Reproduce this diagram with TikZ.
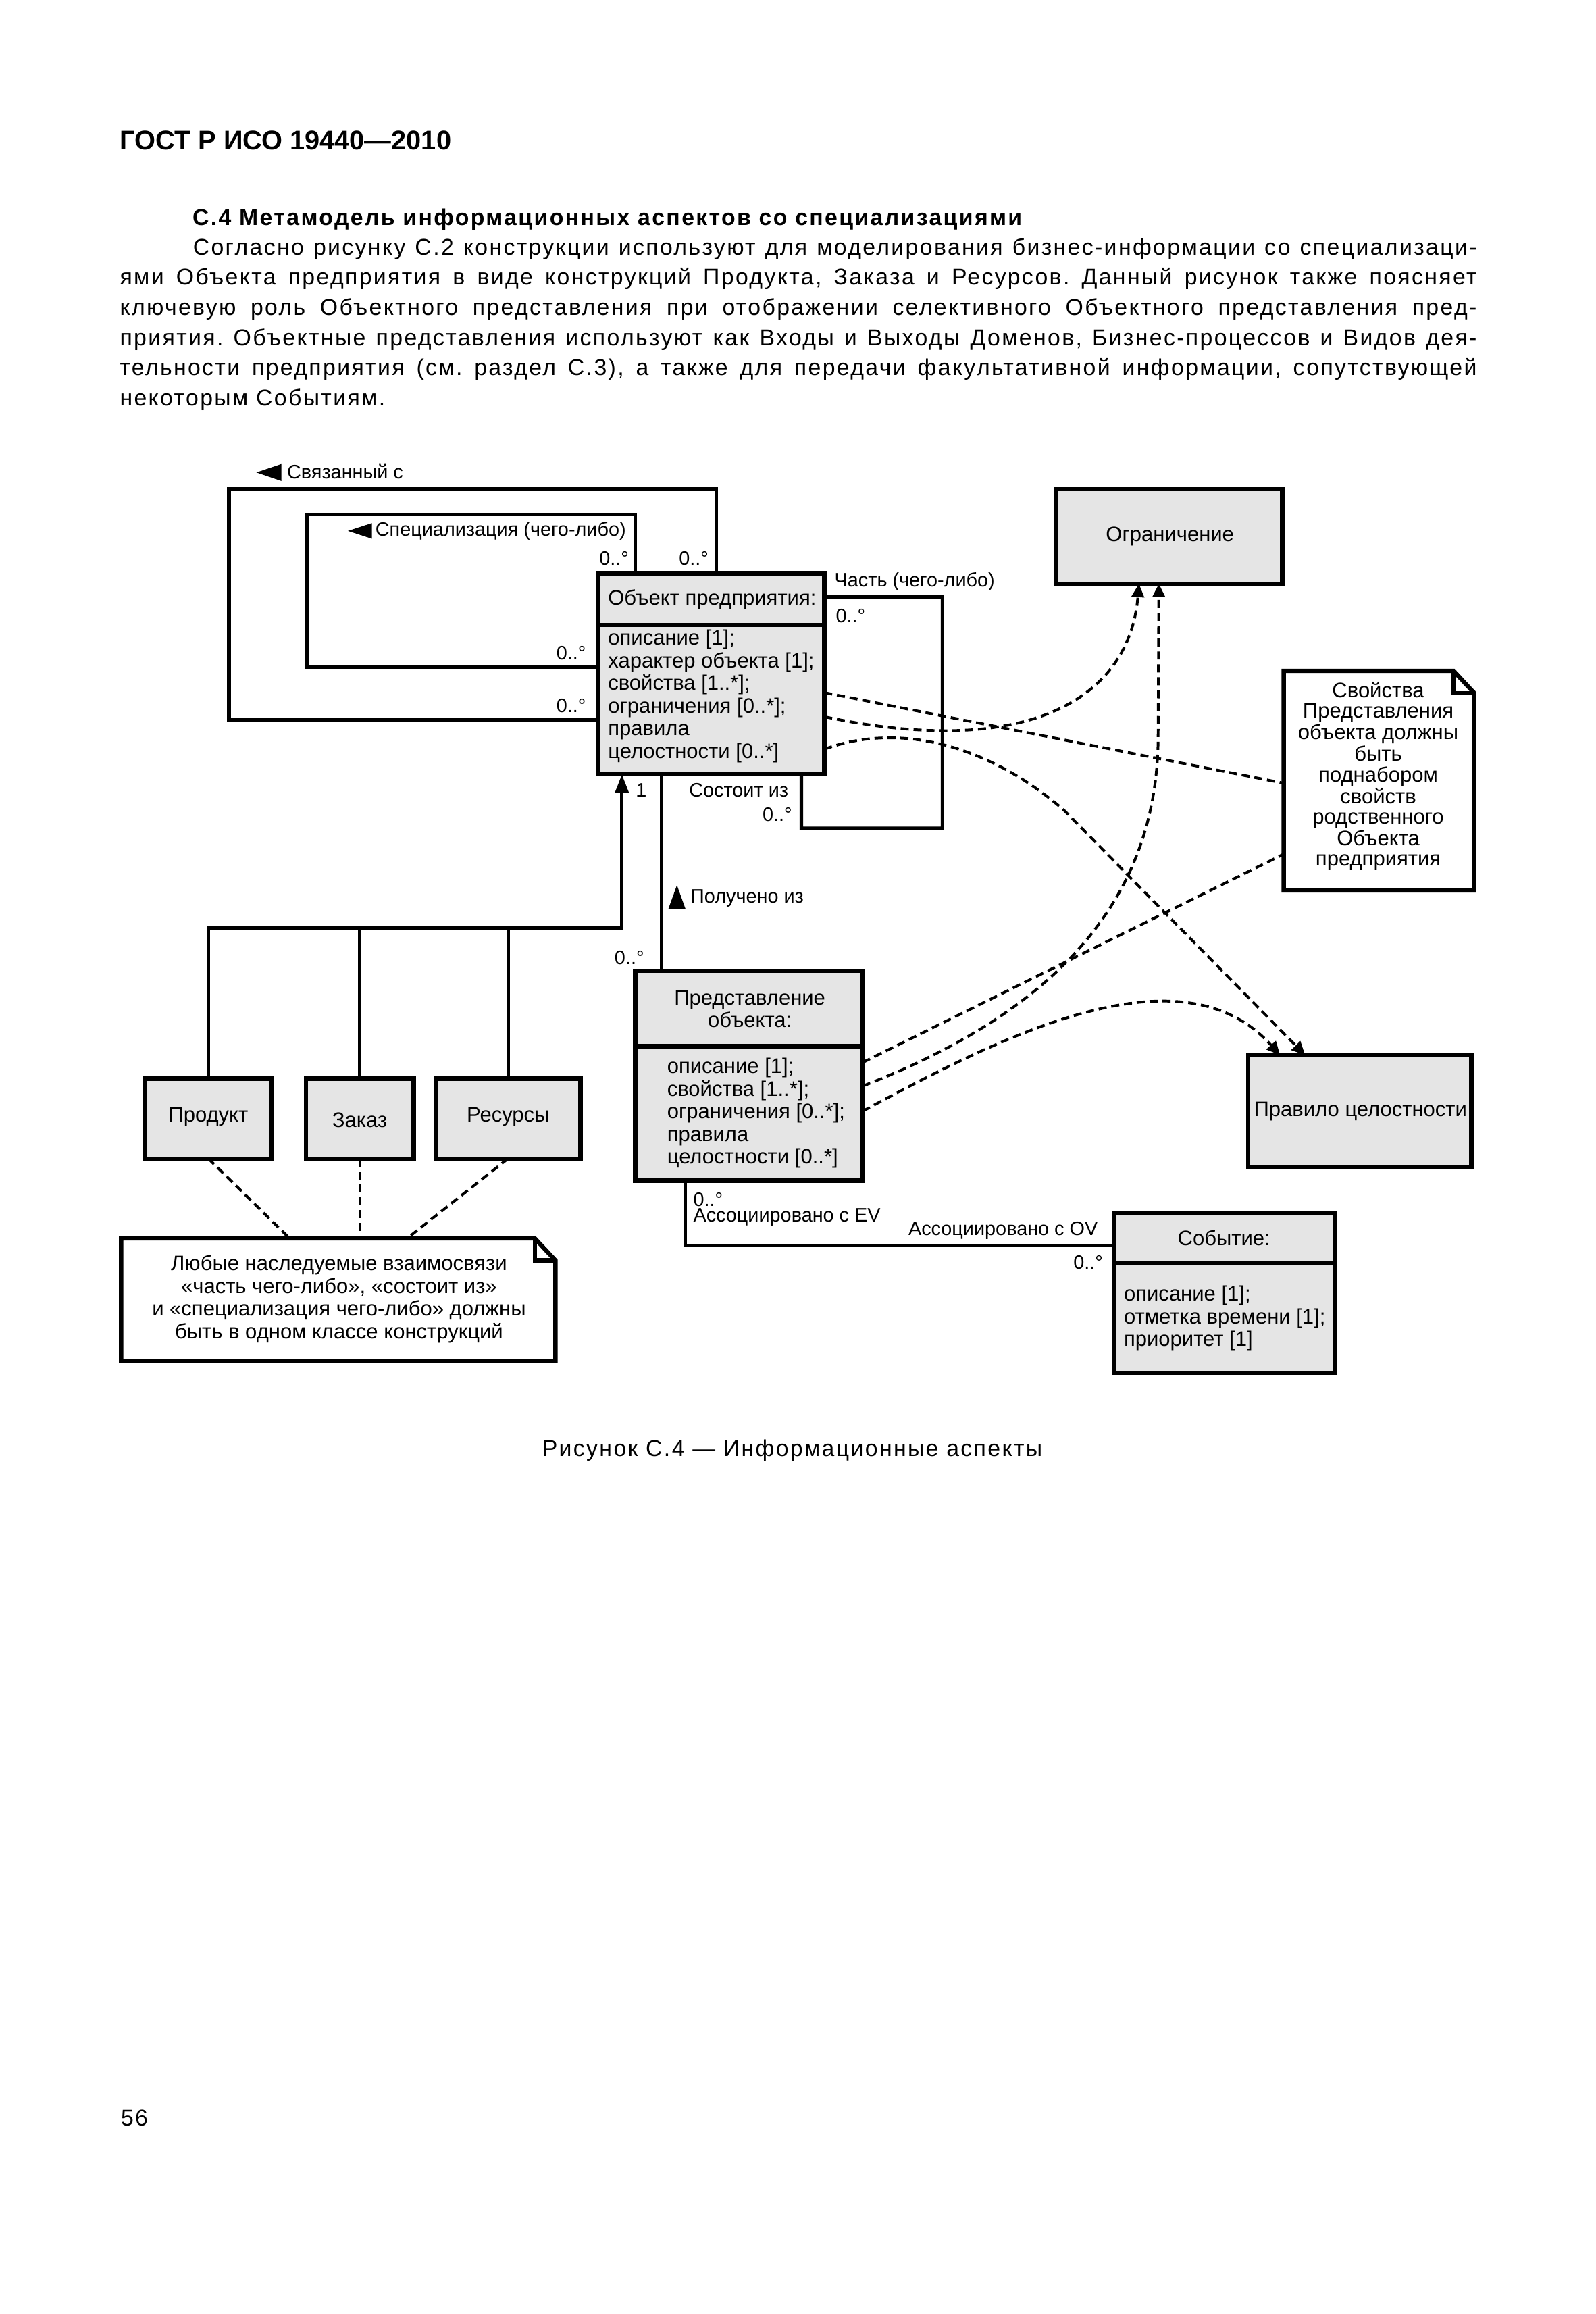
\documentclass[tikz,border=0pt]{standalone}
\usepackage{fontspec}
\setmainfont{Liberation Sans}
\newfontfamily\bodyfont[LetterSpace=7]{Liberation Sans}
\usetikzlibrary{arrows.meta,calc}
\newcommand\dfont{\fontsize{7.8}{8.42}\selectfont}
\newcommand\lfont{\fontsize{7.25}{8.42}\selectfont}
\newcommand\bfont{\bodyfont\fontsize{8.5}{11.2}\selectfont\frenchspacing}
\newcommand\tabl[1]{\begin{tabular}[t]{@{}l@{}}#1\end{tabular}}
\newcommand\tabc[1]{\begin{tabular}[t]{@{}c@{}}#1\end{tabular}}
\newcommand\jline[2]{\makebox[#1][s]{#2}}
\begin{document}
\frenchspacing
\begin{tikzpicture}[x=0.55pt,y=-0.55pt,
  box/.style={draw, line width=1.6pt, fill=black!10, inner sep=0pt, outer sep=0pt, anchor=north west},
  notebox/.style={inner sep=0pt, outer sep=0pt, anchor=north west},
  noteline/.style={line width=1.6pt, line join=miter},
  conn/.style={line width=1.3pt},
  dep/.style={line width=1pt, dash pattern=on 3pt off 1.8pt},
  dtip/.style={-{Triangle[length=5pt,width=4.6pt]}},
  lbl/.style={inner sep=0pt, font=\dfont},
  sml/.style={inner sep=0pt, font=\lfont},
  txt/.style={inner sep=0pt, font=\bfont, anchor=west}]
\fill[white] (0,0) rectangle (1080,1566);
\useasboundingbox (0,0) rectangle (1080,1566);

% ---------- page text ----------
\node[inner sep=0pt, anchor=west, font=\fontsize{10}{12}\selectfont\bfseries] (hdr) at (80.8,95.2) {ГОСТ Р ИСО 19440—2010};
\node[txt, font=\bfont\bfseries] (sec) at (130,148.6) {С.4 Метамодель информационных аспектов со специализациями};
\node[txt] (p1) at (130.3,168.4) {\jline{478pt}{Согласно рисунку С.2 конструкции используют для моделирования бизнес-информации со специализаци-}};
\node[txt] (p2) at (80.8,188.8) {\jline{505.2pt}{ями Объекта предприятия в виде конструкций Продукта, Заказа и Ресурсов. Данный рисунок также поясняет}};
\node[txt] (p3) at (80.8,209.2) {\jline{505.2pt}{ключевую роль Объектного представления при отображении селективного Объектного представления пред-}};
\node[txt] (p4) at (80.8,229.6) {\jline{505.2pt}{приятия. Объектные представления используют как Входы и Выходы Доменов, Бизнес-процессов и Видов дея-}};
\node[txt] (p5) at (80.8,250.0) {\jline{505.2pt}{тельности предприятия (см. раздел С.3), а также для передачи факультативной информации, сопутствующей}};
\node[txt] (p6) at (80.8,270.4) {некоторым Событиям.};
\node[txt] (cap) at (366.7,981.5) {Рисунок С.4 — Информационные аспекты};
\node[txt] (pg) at (81.5,1433.5) {56};

% ---------- boxes ----------
\node[box, minimum width=84.15pt, minimum height=74.8pt] (obj) at (405,388) {};
\draw[line width=1.6pt] ($(obj.north west)+(0,35)$) -- ($(obj.north east)+(0,35)$);
\node[lbl, anchor=west] (objt) at (411.3,405.5) {Объект предприятия:};
\node[lbl, anchor=base west] (obja) at (411.3,436.5) {\tabl{описание [1];\\характер объекта [1];\\свойства [1..*];\\ограничения [0..*];\\правила\\целостности [0..*]}};

\node[box, minimum width=84.15pt, minimum height=35.2pt] (ogr) at (715,331) {};
\node[lbl] (ogrt) at (792,363) {Ограничение};

\node[box, minimum width=83.05pt, minimum height=41.8pt] (prav) at (845,714) {};
\node[lbl] (pravt) at (921,752) {Правило целостности};

\node[box, minimum width=84.7pt, minimum height=78.1pt] (repr) at (430,657) {};
\draw[line width=1.6pt] ($(repr.north west)+(0,51)$) -- ($(repr.north east)+(0,51)$);
\node[lbl, anchor=base] (reprt) at (507.6,680) {\tabc{Представление\\объекта:}};
\node[lbl, anchor=base west] (repra) at (451.3,726.5) {\tabl{описание [1];\\свойства [1..*];\\ограничения [0..*];\\правила\\целостности [0..*]}};

\node[box, minimum width=82.5pt, minimum height=59.4pt] (evt) at (754,821) {};
\draw[line width=1.6pt] ($(evt.north west)+(0,34)$) -- ($(evt.north east)+(0,34)$);
\node[lbl] (evtt) at (828.6,837.7) {Событие:};
\node[lbl, anchor=base west] (evta) at (760.5,880.6) {\tabl{описание [1];\\отметка времени [1];\\приоритет [1]}};

\node[box, minimum width=47.3pt, minimum height=29.7pt] (prod) at (98,730) {};
\node[lbl] (prodt) at (141,756) {Продукт};
\node[box, minimum width=40.15pt, minimum height=29.7pt] (zak) at (207,730) {};
\node[lbl] (zakt) at (243.5,758) {Заказ};
\node[box, minimum width=53.9pt, minimum height=29.7pt] (res) at (295,730) {};
\node[lbl] (rest) at (344,756) {Ресурсы};

% ---------- notes ----------
\node[notebox, minimum width=70.95pt, minimum height=81.7pt] (pnote) at (869,454) {};
\draw[noteline, fill=white] (pnote.north west) -- ($(pnote.north east)+(-14,0)$) -- ($(pnote.north east)+(0,15)$) -- (pnote.south east) -- (pnote.south west) -- cycle;
\draw[noteline] ($(pnote.north east)+(-14,0)$) |- ($(pnote.north east)+(0,15)$);
\node[inner sep=0pt, anchor=base, font=\fontsize{7.8}{7.54}\selectfont] (pnotet) at (933,472) {\tabc{Свойства\\Представления\\объекта должны\\быть\\поднабором\\свойств\\родственного\\Объекта\\предприятия}};

\node[notebox, minimum width=161.7pt, minimum height=45.65pt] (note2) at (82,838) {};
\draw[noteline, fill=white] (note2.north west) -- ($(note2.north east)+(-14,0)$) -- ($(note2.north east)+(0,15)$) -- (note2.south east) -- (note2.south west) -- cycle;
\draw[noteline] ($(note2.north east)+(-14,0)$) |- ($(note2.north east)+(0,15)$);
\node[lbl, anchor=base] (note2t) at (229.5,860) {\tabc{Любые наследуемые взаимосвязи\\«часть чего-либо», «состоит из»\\и «специализация чего-либо» должны\\быть в одном классе конструкций}};

% ---------- solid connectors ----------
\draw[conn] ($(obj.north west)+(80,0)$) -- ++(0,-57) -- ++(-330,0) -- ++(0,156) -- ($(obj.north west)+(0,99)$);
\draw[conn] ($(obj.north west)+(25,0)$) -- ++(0,-40) -- ++(-222,0) -- ++(0,103.5) -- ($(obj.north west)+(0,63.5)$);
\draw[conn] ($(obj.north east)+(0,16)$) -- ++(80,0) -- ++(0,156.5) -- ++(-95.5,0) -- ($(obj.south west)+(137.5,0)$);
\draw[conn, -{Triangle[length=7pt,width=5pt]}] (prod.north) |- ($(obj.south west)+(16,104)$) -- ($(obj.south west)+(16,0)$);
\draw[conn] (zak.north) -- ++(0,-102);
\draw[conn] (res.north) -- ++(0,-102);
\draw[conn] ($(obj.south west)+(43,0)$) -- ($(repr.north west)+(18,0)$);
\draw[conn] ($(repr.south west)+(34,0)$) |- ($(evt.north west)+(0,22)$);

% direction triangles
\fill (173.6,319.7) -- (190.5,314) -- (190.5,325.5) -- cycle;
\fill (235.5,359.3) -- (251.8,354) -- (251.8,364.6) -- cycle;
\fill (452.5,615) -- (464,615) -- (458.25,599) -- cycle;

% ---------- dashed connectors ----------
\draw[dep] ($(obj.north east)+(0,80.7)$) -- ($(pnote.north west)+(0,76)$);
\draw[dep, dtip] ($(obj.north east)+(0,97)$) .. controls (700,515) and (765,470) .. ($(ogr.south west)+(56,0)$);
\draw[dep, dtip] ($(obj.north east)+(0,119)$) .. controls (610,488) and (670,505) .. (720,548) -- ($(prav.north west)+(38.5,0)$);
\draw[dep] ($(repr.north east)+(0,62)$) -- ($(pnote.north west)+(0,124)$);
\draw[dep, dtip] ($(repr.north east)+(0,78)$) .. controls (700,690) and (783,620) .. (784,500) -- ($(ogr.south west)+(69.5,0)$);
\draw[dep, dtip] ($(repr.north east)+(0,95)$) .. controls (680,700) and (800,640) .. ($(prav.north west)+(21.5,0)$);
\draw[dep] (prod.south) -- ($(note2.north west)+(114,0)$);
\draw[dep] (zak.south) -- (zak.south |- note2.north);
\draw[dep] (res.south) -- ($(note2.north west)+(193.7,0)$);

% ---------- labels ----------
\node[sml, anchor=west] (l1) at (194,319) {Связанный с};
\node[sml, anchor=west] (l2) at (253.8,359.5) {Специализация (чего-либо)};
\node[sml, anchor=east] (m1) at (426,377.7) {0..°};
\node[sml, anchor=east] (m2) at (480,377.7) {0..°};
\node[sml, anchor=east] (m3) at (397,442) {0..°};
\node[sml, anchor=east] (m4) at (397,477.4) {0..°};
\node[sml, anchor=west] (l3) at (564.6,393.7) {Часть (чего-либо)};
\node[sml, anchor=west] (m5) at (565.5,416.8) {0..°};
\node[sml, anchor=east] (l4) at (534,534.6) {Состоит из};
\node[sml, anchor=east] (m6) at (536.5,551) {0..°};
\node[sml, anchor=west] (m7) at (430,534.6) {1};
\node[sml, anchor=west] (l5) at (467,607.7) {Получено из};
\node[sml, anchor=west] (m8) at (415.7,648) {0..°};
\node[sml, anchor=west] (m9) at (469,811.6) {0..°};
\node[sml, anchor=west] (l6) at (469,823.9) {Ассоциировано с EV};
\node[sml, anchor=east] (l7) at (743.5,833) {Ассоциировано с OV};
\node[sml, anchor=east] (m10) at (747,854.5) {0..°};
\end{tikzpicture}
\end{document}
